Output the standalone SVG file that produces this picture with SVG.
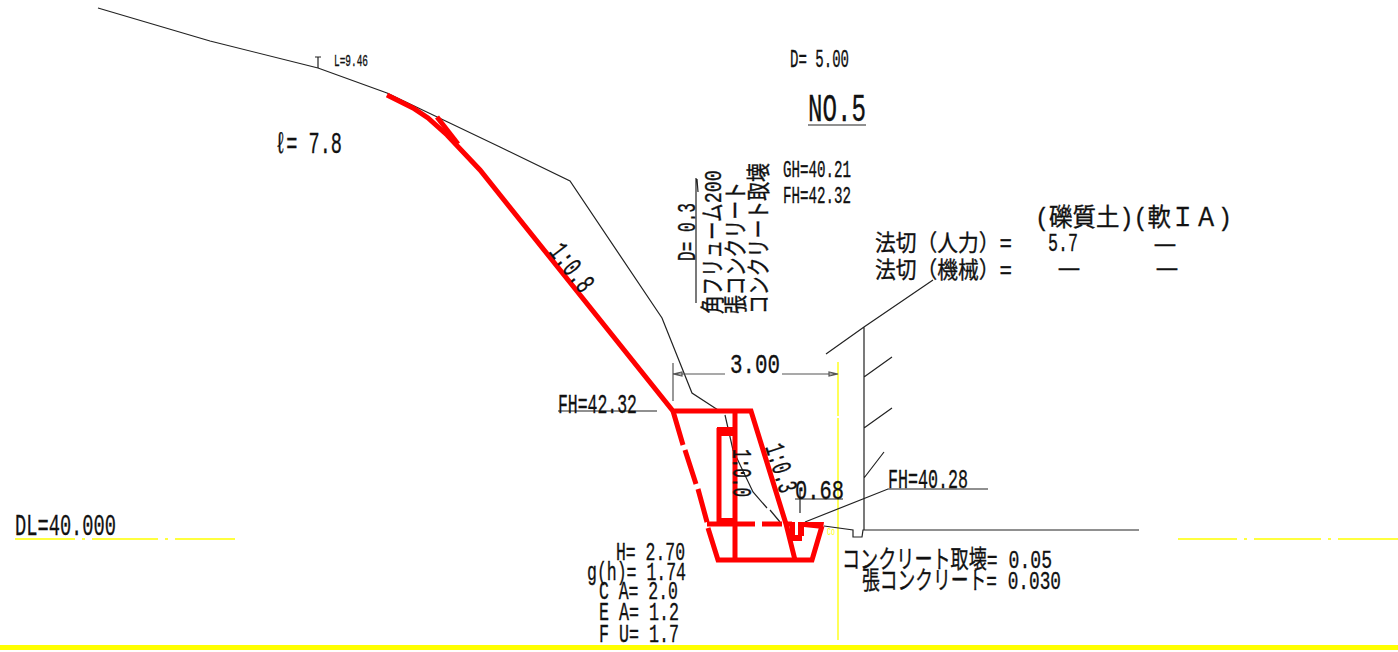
<svg xmlns="http://www.w3.org/2000/svg" width="1398" height="652" viewBox="0 0 1398 652">
<style>
text{font-family:"Liberation Mono","Noto Sans CJK JP",monospace;fill:#111;stroke:#111;stroke-width:.35}
.k{fill:none;stroke:#222;stroke-width:1.2}
.g{fill:none;stroke:#555;stroke-width:1.2}
.r{fill:none;stroke:#f00;stroke-width:5}
.f{fill:#f00}
.y{fill:none;stroke:#ff0;stroke-width:1.3}
</style>
<rect width="1398" height="652" fill="#fff"/>
<rect x="0" y="645" width="1398" height="5" fill="#ff0"/>
<g id="yellow-lines">
<path class="y" d="M15 539H75M82 539H85M92 539H158M165 539H168M175 539H235M1178 539H1237M1244 539H1247M1254 539H1321M1328 539H1331M1338 539H1398M838 362V416M838 418V640"/>
<text x="827" y="535" font-size="10" style="fill:#ff0;stroke:none" textLength="8" lengthAdjust="spacingAndGlyphs">Co</text>
</g>
<g id="ground-and-wall">
<path class="k" d="M98 8L210 41L318 68L387 93L500 147L570 181L662 318L692 393L718 410M725 415L733 450L753 492L767 508M770 510L780 522"/>
<path class="k" d="M824 526L853 530V537H862L863 530H1139"/>
<path class="k" d="M864 327V530M826 354L864 327M864 327L933 280M864 377L892 357M864 428L892 408M864 478L884 452"/>
<path class="k" d="M315 57H321M318 57V68"/>
</g>
<g id="connectors">
<path class="g" d="M673 363V401M673 374H725M782 374H838M673 374l9 -2v4zM838 374l-9 -2v4z"/>
<path class="k" d="M558 411H657M795 499H843M800 488V513M805 522L888 489H988M808 125H866M696 178V303M698 192L697 179"/>
</g>
<g id="retaining-structure">
<path class="r" d="M387 95L413 108L428 118L447 135L480 170L673 411H751L786 524L795 560"/>
<path class="r" d="M437 117L458 144"/>
<path class="r" d="M673 411L683 445M685 450L696 484M698 489L707 522M708 528L718 560H812L822 526M707 524H755M762 524H782M785 524H792M735 411V560"/>
<path class="r" d="M719 428V522"/>
<path class="f" d="M717 427H735V436H717ZM717 518H735V525H717ZM790 522H795V535H802V541H788Z"/>
<path class="f" d="M798 522H824L823 529L804 527V536H798Z"/>
</g>
<g id="labels">
<text x="334" y="66" font-size="17" textLength="34" lengthAdjust="spacingAndGlyphs">L=9.46</text>
<text x="790" y="67" font-size="25" textLength="59" lengthAdjust="spacingAndGlyphs">D= 5.00</text>
<text x="808" y="121" font-size="38" textLength="58" lengthAdjust="spacingAndGlyphs">NO.5</text>
<text x="275" y="153" font-size="30" textLength="67" lengthAdjust="spacingAndGlyphs">ℓ= 7.8</text>
<text x="783" y="177" font-size="23" textLength="68" lengthAdjust="spacingAndGlyphs">GH=40.21</text>
<text x="783" y="203" font-size="23" textLength="68" lengthAdjust="spacingAndGlyphs">FH=42.32</text>
<text x="1035" y="226" font-size="25" textLength="197" lengthAdjust="spacingAndGlyphs">(礫質土)(軟ＩＡ)</text>
<text x="875" y="251" font-size="23" textLength="137" lengthAdjust="spacingAndGlyphs">法切（人力）=</text>
<text x="1048" y="251" font-size="26" textLength="30" lengthAdjust="spacingAndGlyphs">5.7</text>
<text x="1155" y="251" font-size="22" textLength="20" lengthAdjust="spacingAndGlyphs">―</text>
<text x="875" y="278" font-size="23" textLength="137" lengthAdjust="spacingAndGlyphs">法切（機械）=</text>
<text x="1059" y="275" font-size="22" textLength="20" lengthAdjust="spacingAndGlyphs">―</text>
<text x="1157" y="275" font-size="22" textLength="20" lengthAdjust="spacingAndGlyphs">―</text>
<text transform="translate(695 261) rotate(-90)" font-size="26" textLength="58" lengthAdjust="spacingAndGlyphs">D= 0.3</text>
<text transform="translate(721 314) rotate(-90)" font-size="24" textLength="144" lengthAdjust="spacingAndGlyphs">角フリューム200</text>
<text transform="translate(744 314) rotate(-90)" font-size="24" textLength="132" lengthAdjust="spacingAndGlyphs">張コンクリート</text>
<text transform="translate(767 314) rotate(-90)" font-size="24" textLength="151" lengthAdjust="spacingAndGlyphs">コンクリート取壊</text>
<text x="730" y="373" font-size="28" textLength="50" lengthAdjust="spacingAndGlyphs">3.00</text>
<text x="558" y="413" font-size="27" textLength="79" lengthAdjust="spacingAndGlyphs">FH=42.32</text>
<text transform="translate(548 252) rotate(52)" font-size="29" textLength="54" lengthAdjust="spacingAndGlyphs">1:0.8</text>
<text transform="translate(765 447) rotate(72)" font-size="28" textLength="50" lengthAdjust="spacingAndGlyphs">1:0.3</text>
<text transform="translate(733 449) rotate(90)" font-size="28" textLength="48" lengthAdjust="spacingAndGlyphs">1:0.0</text>
<text x="795" y="499" font-size="28" textLength="49" lengthAdjust="spacingAndGlyphs">0.68</text>
<text x="888" y="488" font-size="27" textLength="80" lengthAdjust="spacingAndGlyphs">FH=40.28</text>
<text x="15" y="535" font-size="30" textLength="101" lengthAdjust="spacingAndGlyphs">DL=40.000</text>
<text x="616" y="560" font-size="26" textLength="69" lengthAdjust="spacingAndGlyphs">H= 2.70</text>
<text x="587" y="580" font-size="26" textLength="99" lengthAdjust="spacingAndGlyphs">g(h)= 1.74</text>
<text x="599" y="599" font-size="26" textLength="79" lengthAdjust="spacingAndGlyphs">C A= 2.0</text>
<text x="599" y="620" font-size="26" textLength="80" lengthAdjust="spacingAndGlyphs">E A= 1.2</text>
<text x="599" y="642" font-size="26" textLength="80" lengthAdjust="spacingAndGlyphs">F U= 1.7</text>
<text x="842" y="568" font-size="25" textLength="210" lengthAdjust="spacingAndGlyphs">コンクリート取壊= 0.05</text>
<text x="862" y="589" font-size="25" textLength="199" lengthAdjust="spacingAndGlyphs">張コンクリート= 0.030</text>
</g>
</svg>
